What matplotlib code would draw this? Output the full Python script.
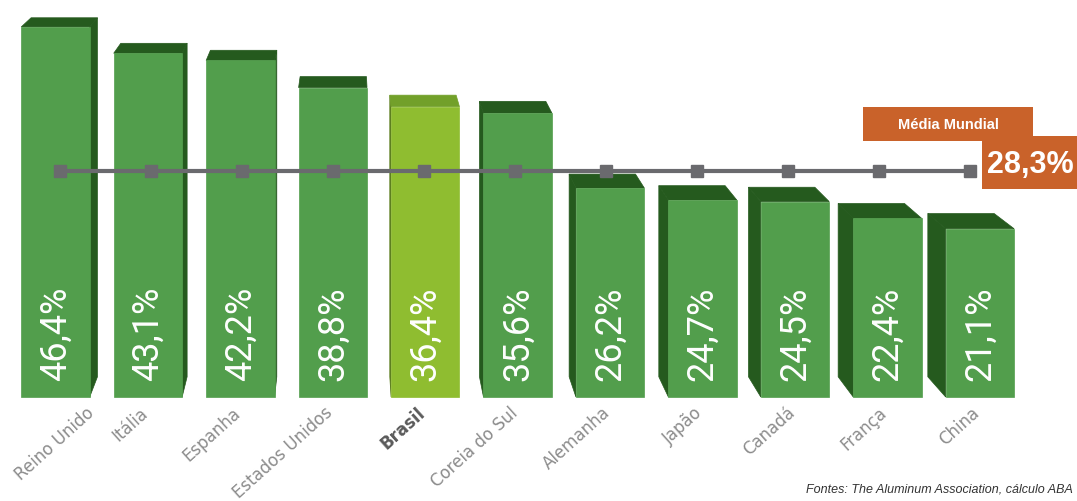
import matplotlib
matplotlib.use("Agg")
import matplotlib.pyplot as plt
from matplotlib.patches import Polygon, Rectangle
from matplotlib.transforms import offset_copy
import numpy as np

# ---------------- data ----------------
countries = ["Reino Unido", "Itália", "Espanha", "Estados Unidos", "Brasil",
             "Coreia do Sul", "Alemanha", "Japão", "Canadá", "França", "China"]
values = [46.4, 43.1, 42.2, 38.8, 36.4, 35.6, 26.2, 24.7, 24.5, 22.4, 21.1]
value_labels = ["46,4%", "43,1%", "42,2%", "38,8%", "36,4%", "35,6%",
                "26,2%", "24,7%", "24,5%", "22,4%", "21,1%"]
highlight = "Brasil"
world_avg = 28.3
world_avg_label = "28,3%"
world_avg_title = "Média Mundial"
source = "Fontes: The Aluminum Association, cálculo ABA"

# ---------------- style ----------------
W, H = 1077, 502
front_col = "#529e4c"
dark_col = "#255a1e"
hl_front = "#8fbd30"
hl_top = "#72a02a"
hl_side = "#5d7f1f"
line_col = "#6a6a6e"
orange = "#c9622a"
bar_w = 0.74
vp = np.array([349.0, H + 277.0])   # perspective vanishing point (display px)
depth_k = 0.03

fig = plt.figure(figsize=(W / 100, H / 100), dpi=100)
ax = fig.add_axes([0, 0, 1, 1])
ax.set_xlim(-0.6, 11.05)
ax.set_ylim(-13.03, 49.9)
ax.axis("off")

x = np.arange(len(countries))
tD = ax.transData
inv = tD.inverted()


def back(pt, k=depth_k):
    p = tD.transform(pt)
    q = p + k * (vp - p)
    return inv.transform(q)


for xi, v, name in zip(x, values, countries):
    x0, x1 = xi - bar_w / 2, xi + bar_w / 2
    FL, FR, TR, TL = (x0, 0), (x1, 0), (x1, v), (x0, v)
    is_hl = name == highlight
    fc = hl_front if is_hl else front_col
    tc = hl_top if is_hl else dark_col
    sc = hl_side if is_hl else dark_col
    px0 = tD.transform(FL)[0]
    px1 = tD.transform(FR)[0]
    if vp[0] > px1:
        side = [FR, TR, back(TR), back(FR)]
        ax.add_patch(Polygon(side, closed=True, fc=sc, ec=sc, lw=0.5, zorder=2))
    elif vp[0] < px0:
        side = [FL, TL, back(TL), back(FL)]
        ax.add_patch(Polygon(side, closed=True, fc=sc, ec=sc, lw=0.5, zorder=2))
    top = [TL, TR, back(TR), back(TL)]
    ax.add_patch(Polygon(top, closed=True, fc=tc, ec=tc, lw=0.5, zorder=2))
    ax.add_patch(Rectangle(FL, bar_w, v, fc=fc, ec=fc, lw=0.5, zorder=3))

# value labels inside bars
val_tr = offset_copy(tD, fig=fig, x=0, y=12, units="points")
for xi, lab in zip(x, value_labels):
    ax.text(xi, 0, lab, transform=val_tr, rotation=90, ha="center", va="bottom",
            color="white", fontsize=26, fontfamily=["Roboto", "DejaVu Sans"],
            fontweight="normal", zorder=6)

# category labels
cat_tr = offset_copy(tD, fig=fig, x=-2, y=-9, units="points")
cat_texts = []
for xi, name in zip(x, countries):
    is_hl = name == highlight
    t = ax.text(xi, 0, name, transform=cat_tr, rotation=42, rotation_mode="anchor",
                ha="right", va="center", fontsize=12,
                color="#5a5a5a" if is_hl else "#8c8c8c",
                fontweight="bold" if is_hl else "normal",
                fontfamily=["DejaVu Sans"])
    cat_texts.append((xi, t))

# keep labels inside the figure
fig.canvas.draw()
renderer = fig.canvas.get_renderer()
px_per_unit = tD.transform((1, 0))[0] - tD.transform((0, 0))[0]
margin = 12
for xi, t in cat_texts:
    bb = t.get_window_extent(renderer)
    if bb.x0 < margin:
        t.set_position((xi + (margin - bb.x0) / px_per_unit, 0))

# world average line (at mid-depth of the bars)
mx = [back((xi, world_avg), depth_k / 2)[0] for xi in x]
ax.plot(mx, [world_avg] * len(mx), color=line_col, lw=3, marker="s",
        markersize=9, markerfacecolor=line_col, markeredgecolor=line_col, zorder=7)


# Média Mundial boxes (figure pixel coords)
def fx(px):
    return px / W


def fy(py):
    return 1 - py / H


fig.patches.append(Rectangle((fx(863), fy(142)), fx(1033) - fx(863), fy(108) - fy(142),
                             transform=fig.transFigure, fc=orange, ec="none", zorder=8))
fig.patches.append(Rectangle((fx(982), fy(190)), fx(1077) - fx(982), fy(137) - fy(190),
                             transform=fig.transFigure, fc=orange, ec="none", zorder=8))
fig.text(fx(948), fy(125), world_avg_title, ha="center", va="center", color="white",
         fontsize=10.5, fontweight="bold", fontfamily=["Liberation Sans", "DejaVu Sans"],
         zorder=9)
fig.text(fx(1030), fy(165), world_avg_label, ha="center", va="center", color="white",
         fontsize=22, fontweight="bold",
         fontfamily=["Liberation Sans", "DejaVu Sans"], zorder=9)

# source
fig.text(fx(1073), fy(490), source, ha="right", va="center", color="#333333",
         fontsize=9, fontstyle="italic",
         fontfamily=["Liberation Sans", "DejaVu Sans"])

fig.savefig("out.png", dpi=100, facecolor="white")
